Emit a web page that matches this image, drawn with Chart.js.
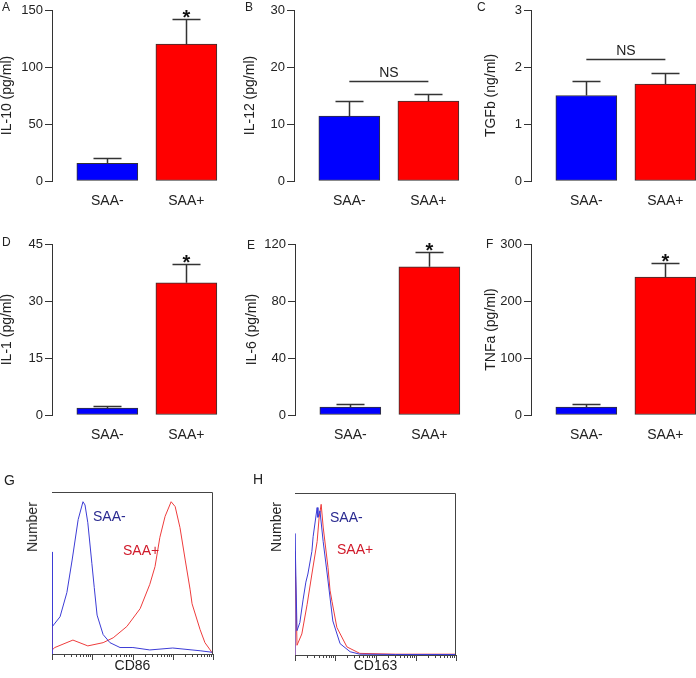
<!DOCTYPE html>
<html>
<head>
<meta charset="utf-8">
<script src="https://cdn.jsdelivr.net/npm/chart.js@4.4.1/dist/chart.umd.min.js"></script>
<style>
  html, body { margin: 0; padding: 0; background: #fff; overflow: hidden; }
  #fig { position: relative; width: 696px; height: 678px; font-family: "Liberation Sans", Arial, sans-serif; color: #222; }
  #fig canvas { position: absolute; }
  .lab { position: absolute; font-size: 14px; line-height: 14px; white-space: nowrap; }
  .letter { position: absolute; font-size: 12px; line-height: 12px; }
  .num { position: absolute; font-size: 14px; line-height: 14px; white-space: nowrap; transform: translate(-50%, -50%) rotate(-90deg); }
</style>
</head>
<body>
<div id="fig"></div>
<script>
const groups = ['SAA-', 'SAA+'];
const barColors = ['#0000ff', '#ff0000'];

// cytokines, mean and upper error (pg/ml, TGFb in ng/ml)
const il10Mean = [15.5, 120];
const il10Err = [4.7, 22];
const il12Mean = [11.4, 14];
const il12Err = [2.7, 1.3];
const tgfbMean = [1.5, 1.7];
const tgfbErr = [0.25, 0.19];
const il1Mean = [1.8, 34.8];
const il1Err = [0.6, 5];
const il6Mean = [5.6, 104];
const il6Err = [2.1, 10.5];
const tnfaMean = [14, 242];
const tnfaErr = [5.3, 25];

// flow histograms, x in decades (log10), y = % of max events
const cd86NegX = [0, 0, 0.02, 0.2, 0.37, 0.5, 0.65, 0.77, 0.82, 0.89, 0.99, 1.05, 1.12, 1.27, 1.44, 1.69, 2.01, 2.43, 3.0, 3.68, 4.0];
const cd86NegY = [0, 63, 17, 23, 38, 58, 83, 94, 92, 81, 56, 41, 24, 12, 7, 4, 4, 2.5, 3.7, 2, 1];
const cd86PosX = [0, 0, 0.01, 0.07, 0.52, 0.89, 1.27, 1.52, 1.86, 2.19, 2.43, 2.56, 2.68, 2.81, 2.96, 3.06, 3.18, 3.31, 3.43, 3.48, 3.68, 3.8, 3.93, 4.0];
const cd86PosY = [0, 23, 2.5, 4, 8.6, 5, 7, 10, 17, 28, 43, 54, 72, 85, 94, 91, 78, 58, 40, 31, 15, 7, 2.5, 0];
const cd163NegX = [0, 0, 0.05, 0.12, 0.2, 0.27, 0.32, 0.42, 0.45, 0.55, 0.57, 0.62, 0.7, 0.8, 0.94, 1.12, 1.37, 1.61, 2.5, 4.0];
const cd163NegY = [0, 75, 15, 20, 34, 45, 50, 64, 73, 91, 85, 89, 70, 50, 21, 7, 2, 0.5, 0.3, 0.3];
const cd163PosX = [0, 0, 0.05, 0.17, 0.3, 0.42, 0.55, 0.6, 0.65, 0.7, 0.82, 0.87, 0.92, 1.04, 1.29, 1.61, 2.5, 4.0];
const cd163PosY = [0, 64, 6, 13, 31, 50, 70, 85, 93, 79, 54, 40, 33, 17, 5, 1, 0.5, 0.5];

const fig = document.getElementById('fig');
const FONT = '"Liberation Sans", Arial, sans-serif';
Chart.defaults.font.family = FONT;
Chart.defaults.color = '#222';

function addCanvas(box) {
  const cv = document.createElement('canvas');
  cv.width = box.w; cv.height = box.h;
  cv.style.left = box.x + 'px'; cv.style.top = box.y + 'px';
  cv.style.width = box.w + 'px'; cv.style.height = box.h + 'px';
  fig.appendChild(cv);
  return cv;
}

function addText(cls, text, left, top, color) {
  const d = document.createElement('div');
  d.className = cls;
  d.textContent = text;
  d.style.left = left + 'px';
  d.style.top = top + 'px';
  if (color) d.style.color = color;
  fig.appendChild(d);
}

function barChart(p, box) {
  const cv = addCanvas(box);
  new Chart(cv, {
    type: 'bar',
    data: {
      datasets: [{
        data: p.mean.map((v, i) => ({ x: i + 1, y: v })),
        backgroundColor: barColors,
        borderColor: '#333',
        borderWidth: 1,
        borderSkipped: false,
        barThickness: 61
      }]
    },
    options: {
      responsive: false,
      animation: false,
      events: [],
      layout: { padding: { left: 0, right: box.w - box.yw - 166, top: box.padT, bottom: 0 } },
      plugins: { legend: { display: false }, tooltip: { enabled: false } },
      scales: {
        x: {
          type: 'linear', min: 0.3, max: 2.4, offset: false,
          afterBuildTicks: s => { s.ticks = groups.map((g, i) => ({ value: i + 1 })); },
          afterFit: s => { s.height = box.xh; },
          grid: { display: false, drawTicks: false },
          border: { display: false },
          ticks: { callback: v => groups[v - 1], font: { size: 14 }, color: '#222', padding: 12, maxRotation: 0, autoSkip: false }
        },
        y: {
          min: 0, max: p.max,
          afterFit: s => { s.width = box.yw; },
          ticks: { stepSize: p.step, font: { size: 13 }, color: '#222', padding: 2 },
          grid: { drawOnChartArea: false, tickLength: 7, color: '#333', lineWidth: 1 },
          border: { color: '#333', width: 1 },
          title: { display: true, text: p.title, font: { size: 14 }, color: '#222', padding: { top: box.tp, bottom: 0 } }
        }
      }
    },
    plugins: [{
      id: 'errs',
      afterDatasetsDraw(chart) {
        const ctx = chart.ctx, y = chart.scales.y, x = chart.scales.x;
        const meta = chart.getDatasetMeta(0);
        ctx.save();
        ctx.strokeStyle = '#333';
        ctx.fillStyle = '#111';
        ctx.lineWidth = 1.5;
        meta.data.forEach((bar, i) => {
          const top = Math.round(y.getPixelForValue(p.mean[i] + p.err[i])) + 0.5;
          const bx = Math.round(bar.x) + 0.5;
          ctx.beginPath();
          ctx.moveTo(bx, bar.y); ctx.lineTo(bx, top);
          ctx.moveTo(bx - 14, top); ctx.lineTo(bx + 14, top);
          ctx.stroke();
          if (p.star && i === 1) {
            ctx.font = 'bold 20px ' + FONT;
            ctx.textAlign = 'center';
            ctx.textBaseline = 'alphabetic';
            ctx.fillText('*', bar.x, top + 4);
          }
        });
        if (p.ns != null) {
          const yy = Math.round(y.getPixelForValue(p.ns)) + 0.5;
          const x1 = x.getPixelForValue(1), x2 = x.getPixelForValue(2);
          ctx.beginPath();
          ctx.moveTo(x1, yy); ctx.lineTo(x2, yy);
          ctx.stroke();
          ctx.font = '14px ' + FONT;
          ctx.fillStyle = '#222';
          ctx.textAlign = 'center';
          ctx.textBaseline = 'alphabetic';
          ctx.fillText('NS', (x1 + x2) / 2, yy - 5);
        }
        ctx.restore();
      }
    }]
  });
}

function histChart(h, box) {
  const cv = addCanvas(box);
  new Chart(cv, {
    type: 'line',
    data: {
      datasets: [
        { data: h.negX.map((v, i) => ({ x: v, y: h.negY[i] })), borderColor: '#3c3cd6', borderWidth: 1, pointRadius: 0, tension: 0 },
        { data: h.posX.map((v, i) => ({ x: v, y: h.posY[i] })), borderColor: '#ee3c3c', borderWidth: 1, pointRadius: 0, tension: 0 }
      ]
    },
    options: {
      responsive: false,
      animation: false,
      events: [],
      layout: { padding: { left: box.padL, right: box.padR, top: box.padT, bottom: 0 } },
      plugins: { legend: { display: false }, tooltip: { enabled: false } },
      scales: {
        x: {
          type: 'linear', min: 0, max: 4,
          afterFit: s => { s.height = box.xh; },
          ticks: { display: false },
          grid: { display: false },
          border: { color: '#444', width: 1 },
          title: { display: true, text: h.title, font: { size: 14 }, color: '#222', padding: { top: 0, bottom: 3 } }
        },
        y: { display: false, min: 0, max: 100 }
      }
    },
    plugins: [{
      id: 'frame',
      afterDraw(chart) {
        const ctx = chart.ctx, a = chart.chartArea, x = chart.scales.x;
        const t = Math.round(a.top) + 0.5, r = Math.round(a.right) - 0.5, b = Math.round(a.bottom);
        ctx.save();
        ctx.strokeStyle = '#444';
        ctx.lineWidth = 1;
        ctx.beginPath();
        ctx.moveTo(a.left, t); ctx.lineTo(r, t); ctx.lineTo(r, b);
        // log decade ticks
        for (let dec = 0; dec <= 4; dec++) {
          for (let m = 1; m <= 9; m++) {
            if (dec === 4 && m > 1) break;
            const px = Math.round(x.getPixelForValue(dec + Math.log10(m))) + 0.5;
            ctx.moveTo(px, b);
            ctx.lineTo(px, b + (m === 1 ? 6 : 3));
          }
        }
        ctx.stroke();
        ctx.restore();
      }
    }]
  });
}

const barPanels = [
  { title: 'IL-10 (pg/ml)', mean: il10Mean, err: il10Err, max: 150, step: 50, star: true },
  { title: 'IL-12 (pg/ml)', mean: il12Mean, err: il12Err, max: 30, step: 10, ns: 17.5 },
  { title: 'TGFb (ng/ml)', mean: tgfbMean, err: tgfbErr, max: 3, step: 1, ns: 2.14 },
  { title: 'IL-1 (pg/ml)', mean: il1Mean, err: il1Err, max: 45, step: 15, star: true },
  { title: 'IL-6 (pg/ml)', mean: il6Mean, err: il6Err, max: 120, step: 40, star: true },
  { title: 'TNFa (pg/ml)', mean: tnfaMean, err: tnfaErr, max: 300, step: 100, star: true }
];

const barBoxes = [
  { x: -4, y: 0, w: 230, h: 210, yw: 56, padT: 10, xh: 29, tp: 3 },
  { x: 232, y: 0, w: 232, h: 210, yw: 62, padT: 10, xh: 29, tp: 10 },
  { x: 464, y: 0, w: 237, h: 210, yw: 67, padT: 10, xh: 29, tp: 18.6 },
  { x: -4, y: 210, w: 230, h: 232, yw: 56, padT: 34, xh: 27, tp: 3 },
  { x: 232, y: 210, w: 233, h: 232, yw: 63, padT: 34, xh: 27, tp: 11.6 },
  { x: 464, y: 210, w: 237, h: 232, yw: 67, padT: 34, xh: 27, tp: 18.6 }
];

barPanels.forEach((p, i) => barChart(p, barBoxes[i]));

histChart({ title: 'CD86', negX: cd86NegX, negY: cd86NegY, posX: cd86PosX, posY: cd86PosY },
  { x: 0, y: 460, w: 232, h: 218, padL: 52, padR: 19, padT: 32, xh: 24 });
histChart({ title: 'CD163', negX: cd163NegX, negY: cd163NegY, posX: cd163PosX, posY: cd163PosY },
  { x: 240, y: 460, w: 232, h: 218, padL: 55, padR: 16, padT: 33, xh: 23 });

// panel letters and histogram labels
[['A', 2, 1], ['B', 245, 1], ['C', 477, 1], ['D', 2, 236], ['E', 247, 239], ['F', 486, 238]]
  .forEach(([t, l, tp]) => addText('letter', t, l, tp));
addText('lab', 'G', 4, 473);
addText('lab', 'H', 253, 472);
addText('num', 'Number', 32, 527);
addText('num', 'Number', 276, 527);
addText('lab', 'SAA-', 93, 509, '#2a2a90');
addText('lab', 'SAA+', 123, 543, '#d01a2a');
addText('lab', 'SAA-', 330, 510, '#2a2a90');
addText('lab', 'SAA+', 337, 542, '#d01a2a');
</script>
</body>
</html>
